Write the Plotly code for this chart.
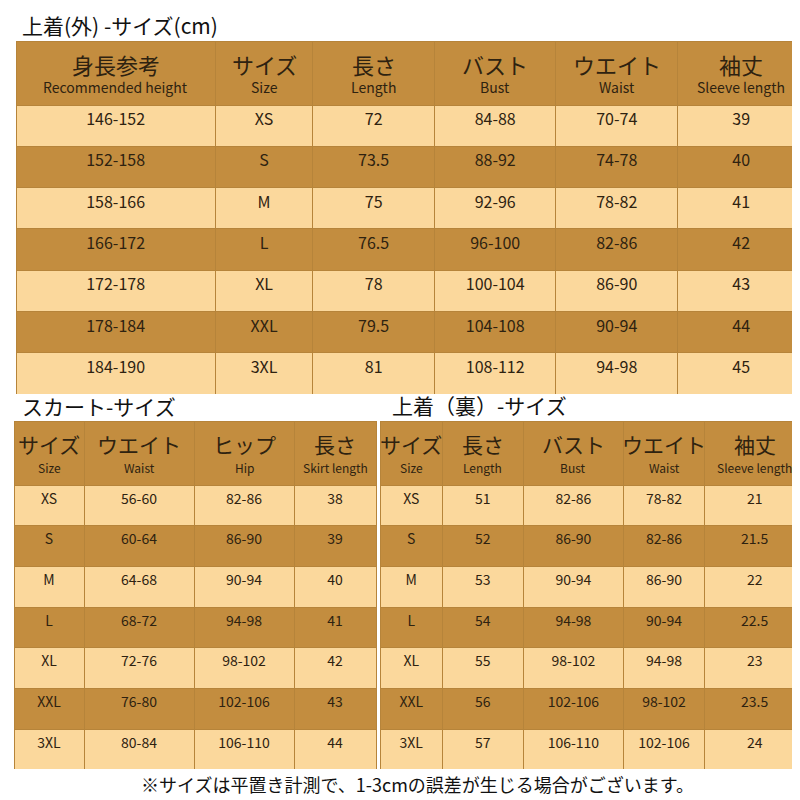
import plotly.graph_objects as go

top_heights = ["146-152","152-158","158-166","166-172","172-178","178-184","184-190"]
sizes = ["XS","S","M","L","XL","XXL","3XL"]
top_length = ["72","73.5","75","76.5","78","79.5","81"]
top_bust = ["84-88","88-92","92-96","96-100","100-104","104-108","108-112"]
top_waist = ["70-74","74-78","78-82","82-86","86-90","90-94","94-98"]
top_sleeve = ["39","40","41","42","43","44","45"]

sk_waist = ["56-60","60-64","64-68","68-72","72-76","76-80","80-84"]
sk_hip = ["82-86","86-90","90-94","94-98","98-102","102-106","106-110"]
sk_length = ["38","39","40","41","42","43","44"]

in_length = ["51","52","53","54","55","56","57"]
in_bust = ["82-86","86-90","90-94","94-98","98-102","102-106","106-110"]
in_waist = ["78-82","82-86","86-90","90-94","94-98","98-102","102-106"]
in_sleeve = ["21","21.5","22","22.5","23","23.5","24"]

top_hdr_jp = ["身長参考","サイズ","長さ","バスト","ウエイト","袖丈"]
top_hdr_en = ["Recommended height","Size","Length","Bust","Waist","Sleeve length"]
sk_hdr_jp = ["サイズ","ウエイト","ヒップ","長さ"]
sk_hdr_en = ["Size","Waist","Hip","Skirt length"]
in_hdr_jp = ["サイズ","長さ","バスト","ウエイト","袖丈"]
in_hdr_en = ["Size","Length","Bust","Waist","Sleeve length"]

DARK = "#C38D3F"
LIGHT = "#FBD89C"
TXT = "#2e2210"
LINE = "#B6843A"
FONT = "Noto Sans CJK JP"
W, H = 800, 800

fills = [LIGHT if i % 2 == 0 else DARK for i in range(7)]
fig = go.Figure()

def note(text, x, y, size, anchor="left", color="#111"):
    fig.add_annotation(text=text, x=x / W, y=1 - y / H, xref="paper", yref="paper",
                       xanchor=anchor, yanchor="middle", showarrow=False,
                       font=dict(family=FONT, size=size, color=color))

def table(jp, en, cols, x0, x1, y0, hh, ch, widths, fs, js, es):
    y1 = y0 + hh + 7 * ch
    fig.add_trace(go.Table(
        domain=dict(x=[x0 / W, x1 / W], y=[1 - y1 / H, 1 - y0 / H]),
        columnwidth=widths,
        header=dict(values=[""] * len(cols), fill_color=DARK, line_color=LINE, height=hh),
        cells=dict(values=cols, fill_color=[fills] * len(cols), line_color=LINE, height=ch,
                   font=dict(family=FONT, size=fs, color=TXT), align="center"),
    ))
    tot = sum(widths)
    acc = x0
    for j, e, w in zip(jp, en, widths):
        wpx = w / tot * (x1 - x0)
        cx = acc + wpx / 2
        note(j, cx, y0 + hh * 0.36, js, "center", TXT)
        note(e, cx, y0 + hh * 0.72, es, "center", TXT)
        acc += wpx

table(top_hdr_jp, top_hdr_en, [top_heights, sizes, top_length, top_bust, top_waist, top_sleeve],
      8, 797, 33, 64, 41.3, [200, 98, 122, 122, 122, 128], 16, 22, 14)
table(sk_hdr_jp, sk_hdr_en, [sizes, sk_waist, sk_hip, sk_length],
      6, 368, 413, 64, 40.7, [70, 110, 100, 82], 14, 21, 12)
table(in_hdr_jp, in_hdr_en, [sizes, in_length, in_bust, in_waist, in_sleeve],
      372, 797, 413, 64, 40.7, [62, 80, 100, 80, 100], 14, 21, 12)

note("上着(外) -サイズ(cm)", 12, 17, 21)
note("スカート-サイズ", 12, 398, 21)
note("上着（裏）-サイズ", 382, 397, 21)
note("※サイズは平置き計測で、1-3cmの誤差が生じる場合がございます。", 410, 776, 18, "center")

fig.update_layout(width=W, height=H, margin=dict(l=0, r=0, t=0, b=0),
                  paper_bgcolor="white", plot_bgcolor="white")
fig.write_html("out.html")
